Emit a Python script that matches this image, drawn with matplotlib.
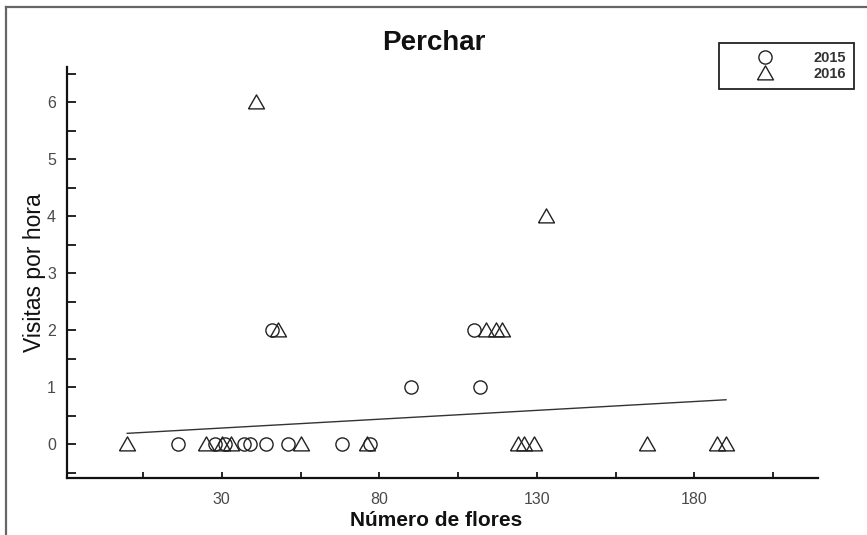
import numpy as np
import matplotlib
matplotlib.use('Agg')
import matplotlib.pyplot as plt
from matplotlib.lines import Line2D

plt.rcParams['font.family'] = ['Liberation Sans', 'DejaVu Sans']

# datos
flores_2015 = [16, 28, 31, 37, 39, 44, 51, 68, 77, 90, 112, 46, 110]
visitas_2015 = [0, 0, 0, 0, 0, 0, 0, 0, 0, 1, 1, 2, 2]
flores_2016 = [0, 25, 30, 33, 55, 76, 124, 126, 129, 165, 187, 190, 48, 114, 117, 119, 133, 41]
visitas_2016 = [0, 0, 0, 0, 0, 0, 0, 0, 0, 0, 0, 0, 2, 2, 2, 2, 4, 6]
ajuste_intercepto = 0.19
ajuste_pendiente = 0.0031
x_ticks = [5, 30, 55, 80, 105, 130, 155, 180, 205]
x_labels = ['', '30', '', '80', '', '130', '', '180', '']
y_ticks = [-0.5, 0, 0.5, 1, 1.5, 2, 2.5, 3, 3.5, 4, 4.5, 5, 5.5, 6, 6.5]
y_labels = ['', '0', '', '1', '', '2', '', '3', '', '4', '', '5', '', '6', '']

fig = plt.figure(figsize=(8.67, 5.35), dpi=100)
ax = fig.add_axes([0.0773, 0.1071, 0.8662, 0.7671])

# triangulo equilatero al estilo de R (pch=2)
tri = [(-1, -0.8), (1, -0.8), (0, 0.95), (-1, -0.8)]

ax.plot(flores_2015, visitas_2015, linestyle='none', marker='o', ms=9.5,
        mfc='none', mec='#222222', mew=1.0, label='2015')
ax.plot(flores_2016, visitas_2016, linestyle='none', marker=tri, ms=11.5,
        mfc='none', mec='#222222', mew=1.0, label='2016')

todos = flores_2015 + flores_2016
xs = np.array([min(todos), max(todos)])
ax.plot(xs, ajuste_intercepto + ajuste_pendiente * xs, color='#333333', lw=1.0)

ax.set_xlim(-19.1, 219.2)
ax.set_ylim(-0.588, 6.61)
ax.set_xticks(x_ticks)
ax.set_xticklabels(x_labels)
ax.set_yticks(y_ticks)
ax.set_yticklabels(y_labels)
ax.tick_params(axis='x', direction='in', length=4.5, width=1.2, pad=10,
               labelsize=11.5, labelcolor='#4a4a4a')
ax.tick_params(axis='y', direction='in', length=6.5, width=1.2, pad=8,
               labelsize=11.5, labelcolor='#4a4a4a')
for s in ['top', 'right']:
    ax.spines[s].set_visible(False)
for s in ['left', 'bottom']:
    ax.spines[s].set_linewidth(1.6)
    ax.spines[s].set_color('#111111')

ax.text(0.489, 1.059, 'Perchar', transform=ax.transAxes, ha='center', va='center',
        fontsize=20, fontweight='bold', color='#111111')
ax.set_xlabel('Número de flores', fontsize=15, fontweight='bold', color='#111111')
ax.xaxis.set_label_coords(0.491, -0.1055)
ax.xaxis.label.set_va('center')
ax.set_ylabel('Visitas por hora', fontsize=16.5, color='#111111')
ax.yaxis.set_label_coords(-0.043, 0.5)
ax.yaxis.label.set_va('center')

leg = fig.legend(loc='upper right', bbox_to_anchor=(854 / 867, 1 - 42.7 / 535),
                 borderaxespad=0, fancybox=False, edgecolor='#222222',
                 prop={'weight': 'bold', 'size': 10.5}, labelcolor='#333333',
                 borderpad=0.55, handlelength=5.2, handletextpad=0.75,
                 labelspacing=0.15, framealpha=1)
leg.get_frame().set_linewidth(1.3)

# borde gris de la captura
fig.add_artist(Line2D([6 / 867, 6 / 867], [0, 1 - 7 / 535], color='#666666', lw=1.6))
fig.add_artist(Line2D([6 / 867, 1], [1 - 7 / 535, 1 - 7 / 535], color='#666666', lw=1.6))

fig.savefig('out.png', dpi=100)
